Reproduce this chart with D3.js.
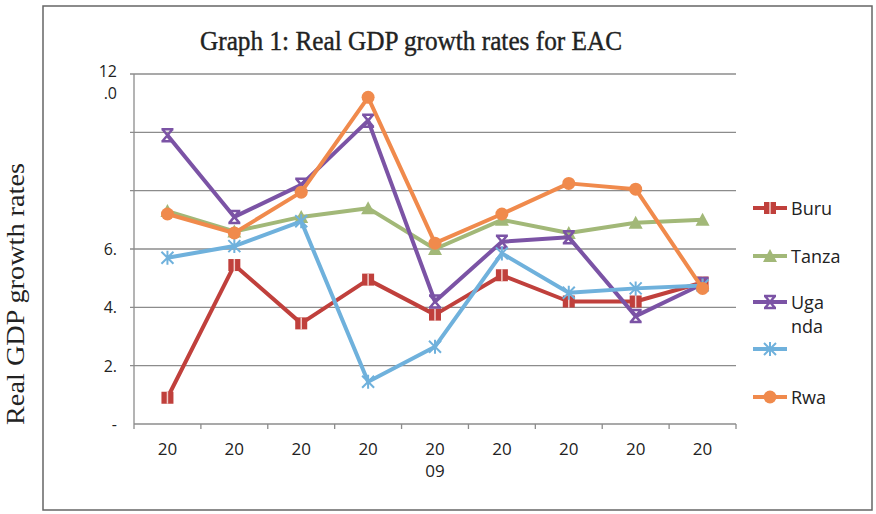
<!DOCTYPE html>
<html>
<head>
<meta charset="utf-8">
<script src="https://cdn.jsdelivr.net/npm/d3@7"></script>
<style>
	body { margin: 0; background: #fff; }
	text { font-family: 'Open Sans', sans-serif; fill: #222; }
</style>
</head>
<body>
<script>

//Chart values
const years = [2005, 2006, 2007, 2008, 2009, 2010, 2011, 2012, 2013]
const yearLabels = ['20', '20', '20', '20', '20\n09', '20', '20', '20', '20']
const yTicks = [0, 2, 4, 6, 8, 10, 12]
const yTickLabels = ['-', '2.', '4.', '6.', '', '', '12\n.0']

const seriesNames = ['Buru', 'Tanza', 'Uga\nnda', '', 'Rwa']
const burundi  = [0.9, 5.45, 3.45, 4.95, 3.75, 5.1, 4.2, 4.2, 4.85]
const tanzania = [7.3, 6.6, 7.1, 7.4, 6.0, 7.0, 6.55, 6.9, 7.0]
const uganda   = [9.9, 7.1, 8.2, 10.4, 4.2, 6.25, 6.4, 3.7, 4.8]
const kenya    = [5.7, 6.1, 6.95, 1.45, 2.65, 5.85, 4.5, 4.65, 4.75]
const rwanda   = [7.2, 6.55, 7.95, 11.2, 6.2, 7.2, 8.25, 8.05, 4.65]

const colors = ['#c0403c', '#a2b878', '#7b53a5', '#6fb1dc', '#f08a4c']
const markers = ['square', 'triangle', 'hourglass', 'star', 'circle']
const series = [burundi, tanzania, uganda, kenya, rwanda]

const svg = d3.select('body').append('svg')
	.attr('width', 876)
	.attr('height', 514)

svg.append('rect').attr('width', 876).attr('height', 514).style('fill', '#fff')

//outer frame of the chart
svg.append('rect')
	.attr('x', 43).attr('y', 6)
	.attr('width', 829).attr('height', 504)
	.style('fill', 'none').style('stroke', '#666').attr('stroke-width', 1.5)

const x = d3.scaleBand().domain(years).range([134, 736])
const y = d3.scaleLinear().domain([0, 12]).range([424, 74])
const cx = d => x(d) + x.bandwidth()/2

//title
svg.append('text')
	.attr('x', 411).attr('y', 50)
	.attr('text-anchor', 'middle')
	.attr('textLength', 422)
	.attr('lengthAdjust', 'spacingAndGlyphs')
	.style('font-family', 'Liberation Serif, serif')
	.style('font-size', '27px')
	.style('stroke', '#222').style('stroke-width', 0.4)
	.text('Graph 1: Real GDP growth rates for EAC')

//y title, outside the frame
svg.append('text')
	.attr('transform', 'translate(24 294) rotate(-90)')
	.attr('text-anchor', 'middle')
	.attr('textLength', 262)
	.attr('lengthAdjust', 'spacingAndGlyphs')
	.style('font-family', 'Liberation Serif, serif')
	.style('font-size', '25px')
	.text('Real GDP growth rates')

//gridlines
svg.append('g').selectAll('line')
	.data(yTicks.filter(d => d > 0))
	.join('line')
	.attr('x1', 130).attr('x2', 736)
	.attr('y1', d => y(d)).attr('y2', d => y(d))
	.style('stroke', '#8c8c8c').attr('stroke-width', 1.3)

//y axis
svg.append('line')
	.attr('x1', 134).attr('x2', 134)
	.attr('y1', y(12)).attr('y2', y(0))
	.style('stroke', '#8c8c8c').attr('stroke-width', 1.3)

svg.append('g').selectAll('text')
	.data(yTicks)
	.join('text')
	.attr('x', 117)
	.attr('y', d => d == 12 ? y(d) + 3 : y(d) + 6)
	.attr('text-anchor', 'end')
	.style('font-size', '16px')
	.each(function(d, i) {
		let lines = yTickLabels[i].split('\n')
		d3.select(this).selectAll('tspan')
			.data(lines)
			.join('tspan')
			.attr('x', 117)
			.attr('dy', (l, j) => j == 0 ? 0 : 22)
			.text(l => l)
	})

//x axis with ticks between the categories
svg.append('line')
	.attr('x1', 134).attr('x2', 736)
	.attr('y1', y(0)).attr('y2', y(0))
	.style('stroke', '#8c8c8c').attr('stroke-width', 1.3)

svg.append('g').selectAll('line')
	.data(years.concat(['end']))
	.join('line')
	.attr('x1', d => d == 'end' ? 736 : x(d))
	.attr('x2', d => d == 'end' ? 736 : x(d))
	.attr('y1', y(0)).attr('y2', y(0) + 5)
	.style('stroke', '#8c8c8c').attr('stroke-width', 1.3)

svg.append('g').selectAll('text')
	.data(years)
	.join('text')
	.attr('y', 455)
	.attr('text-anchor', 'middle')
	.style('font-size', '17px')
	.each(function(d, i) {
		let lines = yearLabels[i].split('\n')
		d3.select(this).selectAll('tspan')
			.data(lines)
			.join('tspan')
			.attr('x', cx(d))
			.attr('dy', (l, j) => j == 0 ? 0 : 22)
			.text(l => l)
	})

//draws one marker of the given kind, centred on 0,0
function drawMarker(g, kind, color) {
	if(kind == 'square') {
		g.append('rect').attr('x', -6).attr('y', -6).attr('width', 12).attr('height', 12).style('fill', color)
		g.append('line').attr('x1', 0).attr('x2', 0).attr('y1', -6).attr('y2', 6).style('stroke', '#f3d0cc').attr('stroke-width', 1.5)
	}
	else if(kind == 'triangle') {
		g.append('path').attr('d', 'M0,-7L7,6L-7,6Z').style('fill', color)
	}
	else if(kind == 'hourglass') {
		g.append('path').attr('d', 'M-6,-6H6M-6,6H6M-5,-6L5,6M5,-6L-5,6')
			.style('stroke', color).style('fill', 'none').attr('stroke-width', 2.5)
	}
	else if(kind == 'star') {
		g.append('path').attr('d', 'M-6,-6L6,6M6,-6L-6,6M0,-7V7')
			.style('stroke', color).style('fill', 'none').attr('stroke-width', 2)
	}
	else {
		g.append('circle').attr('r', 6.5).style('fill', color)
	}
}

const line = d3.line()
	.x((d, i) => cx(years[i]))
	.y(d => y(d))

series.forEach((values, s) => {
	svg.append('path')
		.datum(values)
		.attr('d', line)
		.style('fill', 'none')
		.style('stroke', colors[s])
		.attr('stroke-width', 4)
		.attr('stroke-linejoin', 'round')

	values.forEach((v, i) => {
		let g = svg.append('g').attr('transform', 'translate(' + cx(years[i]) + ' ' + y(v) + ')')
		drawMarker(g, markers[s], colors[s])
	})
})

//legend
const legendY = [208, 256, 302, 349, 397]
series.forEach((values, s) => {
	let g = svg.append('g').attr('transform', 'translate(770 ' + legendY[s] + ')')
	g.append('line').attr('x1', -17).attr('x2', 17)
		.style('stroke', colors[s]).attr('stroke-width', 4)
	drawMarker(g, markers[s], colors[s])

	let lines = seriesNames[s].split('\n')
	g.append('text')
		.attr('y', 7)
		.style('font-size', '18px')
		.selectAll('tspan')
		.data(lines)
		.join('tspan')
		.attr('x', 21)
		.attr('dy', (l, j) => j == 0 ? 0 : 24)
		.text(l => l)
})

</script>
</body>
</html>
